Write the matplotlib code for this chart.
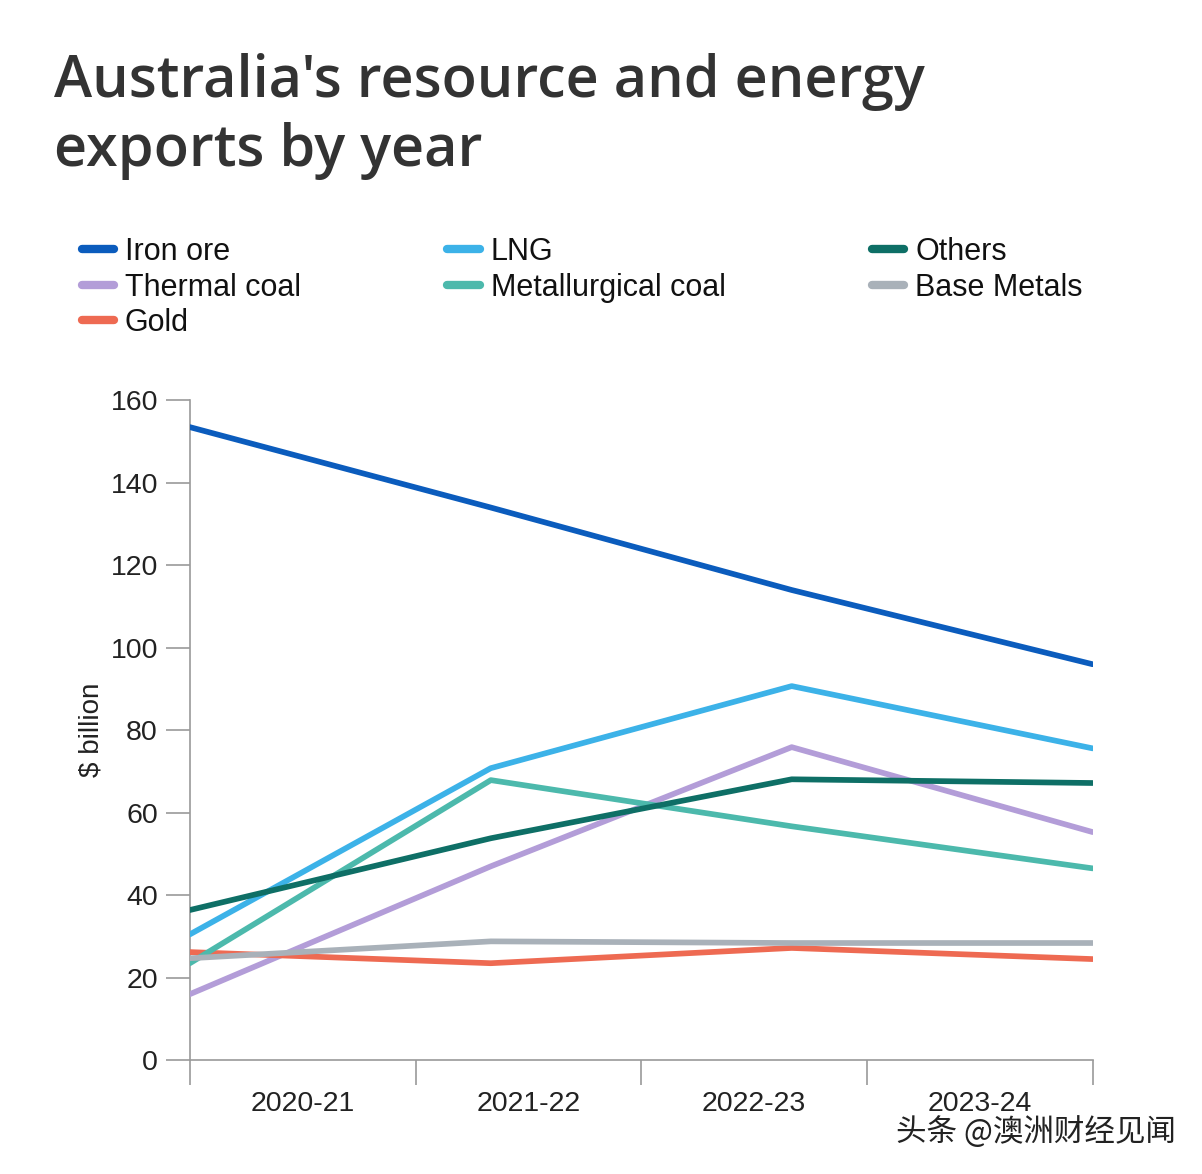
import numpy as np
import matplotlib.pyplot as plt
from matplotlib.ticker import FixedLocator, NullFormatter

years = ["2020-21", "2021-22", "2022-23", "2023-24"]
iron_ore = [153.5, 134, 114, 96]
lng = [30.5, 70.8, 90.7, 75.6]
thermal_coal = [16, 47, 75.9, 55.3]
met_coal = [23.5, 67.9, 56.7, 46.5]
others = [36.4, 53.8, 68.1, 67.2]
base_metals = [24.7, 28.8, 28.4, 28.4]
gold = [26.2, 23.5, 27.2, 24.5]

# ordre pour la légende (colonnes remplies d'abord)
series = [
    ("Iron ore", iron_ore, "#0b5cbd"),
    ("Thermal coal", thermal_coal, "#b39dd8"),
    ("Gold", gold, "#ee6a52"),
    ("LNG", lng, "#3cb2e8"),
    ("Metallurgical coal", met_coal, "#4cb9ac"),
    ("Others", others, "#0e6f66"),
    ("Base Metals", base_metals, "#a9b1b9"),
]

plt.rcParams['font.family'] = ['Liberation Sans', 'DejaVu Sans']

fig = plt.figure(figsize=(12.02, 11.74), dpi=100)
ax = fig.add_axes([0.158, 0.097, 0.751, 0.562])

n = len(years)
# les points vont d'un bord à l'autre, les libellés sont au centre des bandes
x = np.linspace(0, n, n)
handles = []
for name, vals, col in series:
    h, = ax.plot(x, vals, color=col, lw=4.1, solid_capstyle='round',
                 solid_joinstyle='round', label=name, zorder=3)
    handles.append(h)

ax.set_xlim(0, n)
ax.set_ylim(0, 160)
ax.set_yticks(np.arange(0, 161, 20))
ax.xaxis.set_major_locator(FixedLocator(np.arange(0, n + 1)))
ax.xaxis.set_major_formatter(NullFormatter())
ax.xaxis.set_minor_locator(FixedLocator(np.arange(n) + 0.5))
ax.set_xticklabels(years, minor=True)
ax.tick_params(axis='x', which='major', length=18, width=1.2, color='#9a9a9a')
ax.tick_params(axis='x', which='minor', length=0, pad=22, labelsize=20.5, labelcolor='#222222')
ax.tick_params(axis='y', length=17, width=1.2, color='#9a9a9a', pad=6,
               labelsize=20.5, labelcolor='#222222')

for s in ['top', 'right']:
    ax.spines[s].set_visible(False)
for s in ['left', 'bottom']:
    ax.spines[s].set_color('#9a9a9a')
    ax.spines[s].set_linewidth(1.2)

ax.set_ylabel("$ billion", fontsize=20, color='#222222')
ax.yaxis.set_label_coords(-0.095, 0.5)

fig.text(0.045, 0.901, "Australia's resource and energy\nexports by year",
         fontsize=41.5, color='#333333', family=['Open Sans', 'DejaVu Sans'],
         fontweight='semibold', va='center', ha='left', linespacing=1.25)

leg = fig.legend(handles=handles, loc='upper left', bbox_to_anchor=(0.068, 0.798),
                 ncol=3, frameon=False, fontsize=22, handlelength=1.05,
                 handletextpad=0.36, columnspacing=4.8, labelspacing=0.18,
                 borderaxespad=0, borderpad=0)
for lh in leg.get_lines():
    lh.set_linewidth(6)
    lh.set_solid_capstyle('round')
for t in leg.get_texts():
    t.set_color('#111111')

fig.text(0.978, 0.036, "头条 @澳洲财经见闻", fontsize=22, color='#222222',
         ha='right', va='center', family=['Noto Sans CJK SC', 'DejaVu Sans'])

fig.savefig("out.png", dpi=100, facecolor='white')
